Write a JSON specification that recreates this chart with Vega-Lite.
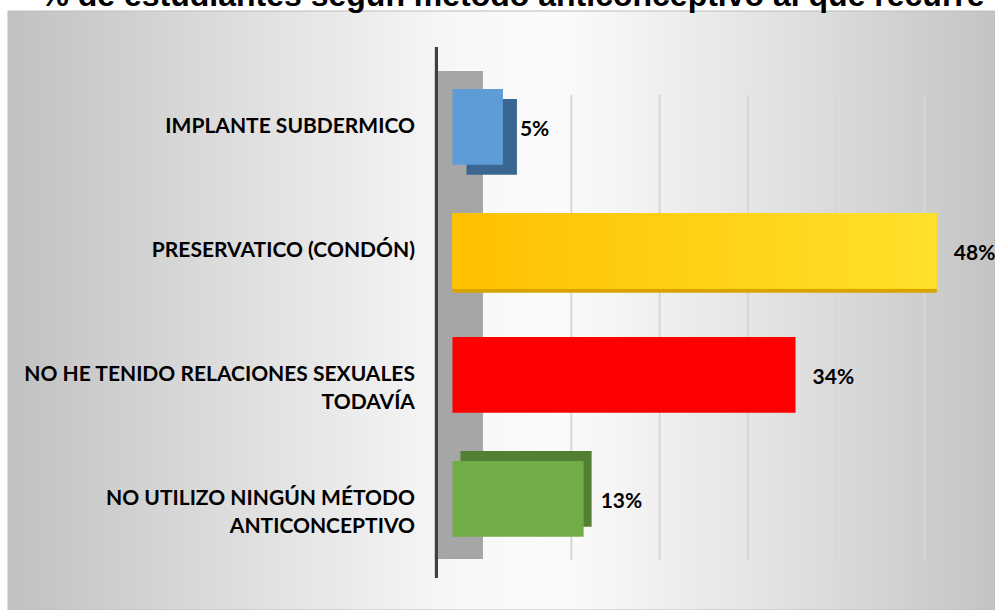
{
  "$schema": "https://vega.github.io/schema/vega-lite/v6.json",
  "width": 987,
  "height": 599,
  "autosize": {"type": "none"},
  "padding": {"left": 8, "top": 11, "right": 0, "bottom": 0},
  "background": "#ffffff",
  "config": {"view": {"stroke": null}},
  "title": {
    "text": "% de estudiantes según método anticonceptivo al que recurre",
    "font": "Liberation Sans",
    "fontSize": 32,
    "fontWeight": "bold",
    "color": "#000000",
    "anchor": "middle",
    "frame": "group",
    "baseline": "alphabetic",
    "offset": -27,
    "dx": 11,
    "zindex": 1
  },
  "datasets": {
    "metodos": [
      {"metodo": "IMPLANTE SUBDERMICO", "proporcion": 0.05},
      {"metodo": "PRESERVATICO (CONDÓN)", "proporcion": 0.48},
      {"metodo": "NO HE TENIDO RELACIONES SEXUALES\nTODAVÍA", "proporcion": 0.34},
      {"metodo": "NO UTILIZO NINGÚN MÉTODO\nANTICONCEPTIVO", "proporcion": 0.13}
    ],
    "rejilla": [{"g": 0.1}, {"g": 0.2}, {"g": 0.3}, {"g": 0.4}, {"g": 0.5}],
    "fondo": [{}]
  },
  "resolve": {"scale": {"x": "independent"}},
  "layer": [
    {
      "data": {"name": "fondo"},
      "mark": {
        "type": "rect",
        "stroke": "#bdbdbd",
        "strokeWidth": 1,
        "fill": {
          "gradient": "linear",
          "x1": 0, "y1": 0.5, "x2": 1, "y2": 0.5,
          "stops": [
            {"offset": 0, "color": "#c1c1c1"},
            {"offset": 0.2, "color": "#dadada"},
            {"offset": 0.45, "color": "#f7f7f7"},
            {"offset": 0.56, "color": "#fbfbfb"},
            {"offset": 0.78, "color": "#e2e2e2"},
            {"offset": 1, "color": "#c4c4c4"}
          ]
        }
      },
      "encoding": {}
    },
    {
      "data": {"name": "rejilla"},
      "mark": {"type": "rule", "color": "#d6d6d6", "strokeWidth": 2, "yOffset": 6, "y2Offset": 99},
      "encoding": {
        "x": {"field": "g", "type": "quantitative", "scale": {"domain": [-0.5379, 0.5798], "nice": false, "zero": false}, "axis": null},
        "y": {"datum": "IMPLANTE SUBDERMICO", "type": "nominal", "bandPosition": 0, "axis": null},
        "y2": {"datum": "NO UTILIZO NINGÚN MÉTODO\nANTICONCEPTIVO", "bandPosition": 0}
      }
    },
    {
      "data": {"name": "metodos"},
      "layer": [
        {
          "mark": {"type": "rule", "color": "#a6a6a6", "strokeWidth": 48, "strokeCap": "butt", "xOffset": 6.5, "yOffset": -18, "y2Offset": 98},
          "encoding": {
            "x": {"datum": 0, "type": "quantitative", "scale": {"domain": [-0.4405, 0.5377], "nice": false, "zero": false}, "axis": null},
            "y": {"datum": "IMPLANTE SUBDERMICO", "type": "nominal", "bandPosition": 0, "axis": null},
            "y2": {"datum": "NO UTILIZO NINGÚN MÉTODO\nANTICONCEPTIVO", "bandPosition": 0}
          }
        },
        {
          "mark": {"type": "rule", "color": "#404040", "strokeWidth": 3, "strokeCap": "butt", "xOffset": -16, "yOffset": -42, "y2Offset": 117},
          "encoding": {
            "x": {"datum": 0, "type": "quantitative", "scale": {"domain": [-0.4405, 0.5377], "nice": false, "zero": false}, "axis": null},
            "y": {"datum": "IMPLANTE SUBDERMICO", "type": "nominal", "bandPosition": 0, "axis": null},
            "y2": {"datum": "NO UTILIZO NINGÚN MÉTODO\nANTICONCEPTIVO", "bandPosition": 0}
          }
        },
        {
          "transform": [{"filter": "datum.metodo == 'IMPLANTE SUBDERMICO'"}],
          "mark": {"type": "bar", "color": "#3a6791", "xOffset": 14, "x2Offset": 14, "yOffset": 10, "y2Offset": 10},
          "encoding": {
            "x": {"field": "proporcion", "type": "quantitative", "scale": {"domain": [-0.4405, 0.5377], "nice": false, "zero": false}, "axis": null},
            "y": {"field": "metodo", "type": "nominal", "axis": null}
          }
        },
        {
          "transform": [{"filter": "datum.metodo == 'PRESERVATICO (CONDÓN)'"}],
          "mark": {"type": "bar", "color": "#d9a400", "yOffset": 4, "y2Offset": 4},
          "encoding": {
            "x": {"field": "proporcion", "type": "quantitative", "scale": {"domain": [-0.4405, 0.5377], "nice": false, "zero": false}, "axis": null},
            "y": {"field": "metodo", "type": "nominal", "axis": null}
          }
        },
        {
          "transform": [{"filter": "datum.metodo == 'NO UTILIZO NINGÚN MÉTODO\\nANTICONCEPTIVO'"}],
          "mark": {"type": "bar", "color": "#537f34", "xOffset": 8, "x2Offset": 8, "yOffset": -10, "y2Offset": -10},
          "encoding": {
            "x": {"field": "proporcion", "type": "quantitative", "scale": {"domain": [-0.4405, 0.5377], "nice": false, "zero": false}, "axis": null},
            "y": {"field": "metodo", "type": "nominal", "axis": null}
          }
        },
        {
          "mark": {"type": "bar"},
          "encoding": {
            "x": {"field": "proporcion", "type": "quantitative", "scale": {"domain": [-0.4405, 0.5377], "nice": false, "zero": false}, "axis": null},
            "y": {
              "field": "metodo",
              "type": "nominal",
              "sort": null,
              "scale": {
                "domain": [
                  "IMPLANTE SUBDERMICO",
                  "PRESERVATICO (CONDÓN)",
                  "NO HE TENIDO RELACIONES SEXUALES\nTODAVÍA",
                  "NO UTILIZO NINGÚN MÉTODO\nANTICONCEPTIVO"
                ],
                "paddingInner": 0.39,
                "paddingOuter": 0.61,
                "align": 0.516
              },
              "axis": null
            },
            "color": {
              "field": "metodo",
              "type": "nominal",
              "legend": null,
              "scale": {
                "domain": [
                  "IMPLANTE SUBDERMICO",
                  "PRESERVATICO (CONDÓN)",
                  "NO HE TENIDO RELACIONES SEXUALES\nTODAVÍA",
                  "NO UTILIZO NINGÚN MÉTODO\nANTICONCEPTIVO"
                ],
                "range": ["#5d9cd7", "#ffcf10", "#ff0000", "#70ad47"]
              }
            }
          }
        },
        {
          "transform": [{"filter": "datum.metodo == 'PRESERVATICO (CONDÓN)'"}],
          "mark": {
            "type": "bar",
            "fill": {
              "gradient": "linear",
              "x1": 0, "y1": 0.5, "x2": 1, "y2": 0.5,
              "stops": [
                {"offset": 0, "color": "#ffc000"},
                {"offset": 1, "color": "#ffe12c"}
              ]
            }
          },
          "encoding": {
            "x": {"field": "proporcion", "type": "quantitative", "scale": {"domain": [-0.4405, 0.5377], "nice": false, "zero": false}, "axis": null},
            "y": {"field": "metodo", "type": "nominal", "axis": null}
          }
        },
        {
          "mark": {"type": "text", "align": "right", "baseline": "middle", "dx": -37.5, "dy": 0, "font": "Lato", "fontSize": 21, "fontWeight": "bold", "color": "#000000", "lineBreak": "\n", "lineHeight": 28},
          "encoding": {
            "x": {"datum": 0, "type": "quantitative", "scale": {"domain": [-0.4405, 0.5377], "nice": false, "zero": false}, "axis": null},
            "y": {"field": "metodo", "type": "nominal", "axis": null},
            "text": {"field": "metodo", "type": "nominal"}
          }
        },
        {
          "mark": {"type": "text", "align": "left", "baseline": "middle", "dx": 17, "dy": 3, "font": "Lato", "fontSize": 21, "fontWeight": "bold", "color": "#000000"},
          "encoding": {
            "x": {"field": "proporcion", "type": "quantitative", "scale": {"domain": [-0.4405, 0.5377], "nice": false, "zero": false}, "axis": null},
            "y": {"field": "metodo", "type": "nominal", "axis": null},
            "text": {"field": "proporcion", "type": "quantitative", "format": ".0%"}
          }
        }
      ]
    }
  ]
}
